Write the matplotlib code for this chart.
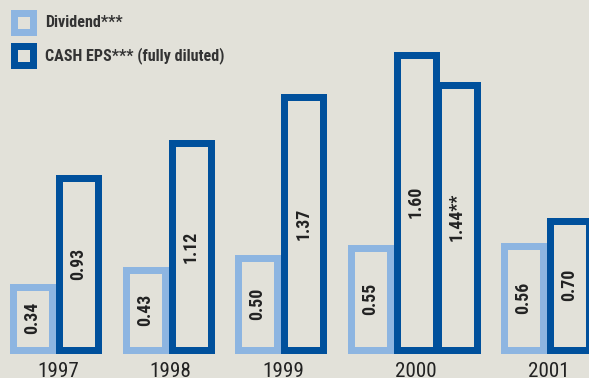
import matplotlib
matplotlib.use("Agg")
import matplotlib.pyplot as plt
from matplotlib.patches import Rectangle
from matplotlib import font_manager as fm

# ---- data ----
years = ["1997", "1998", "1999", "2000", "2001"]
dividend = [0.34, 0.43, 0.50, 0.55, 0.56]
cash_eps = [0.93, 1.12, 1.37, 1.60, 0.70]
extra_year = "2000"
extra_eps = 1.44
extra_label = "1.44**"
legend_labels = ["Dividend***", "CASH EPS*** (fully diluted)"]

# ---- font choice: prefer a condensed sans ----
FAMILY, STRETCH, SCALE = "Liberation Sans", "normal", 0.87
_pref = ["Liberation Sans Narrow", "Roboto Condensed", "Open Sans Condensed",
         "DejaVu Sans Condensed", "Noto Sans Condensed"]
_names = {f.name for f in fm.fontManager.ttflist}
_found = False
for p in _pref:
    if p in _names:
        FAMILY, STRETCH, SCALE, _found = p, "normal", 1.0, True
        break
if not _found:
    for pref_fam in ["Noto Sans", "Open Sans", "Roboto", "DejaVu Sans", "Lato"]:
        hits = [f for f in fm.fontManager.ttflist if f.name == pref_fam and
                str(f.stretch) in ("condensed", "semi-condensed", "extra-condensed")]
        if hits:
            FAMILY, STRETCH = pref_fam, hits[0].stretch
            SCALE = 1.0
            _found = True
            break
FONT = [FAMILY, "DejaVu Sans"]

# ---- style ----
BG = "#e2e1d9"
LIGHT = "#8db5e1"
DARK = "#00509c"
TXT = "#222222"

W, H, DPI = 589, 378, 100
fig = plt.figure(figsize=(W / DPI, H / DPI), dpi=DPI, facecolor=BG)
ax = fig.add_axes([0, 0, 1, 1])
ax.set_facecolor(BG)

PX_PER_UNIT = 184.0
BASE_PX = 349.5  # baseline pixel from top
ax.set_xlim(0, W)
ax.set_ylim(-(H - BASE_PX) / PX_PER_UNIT, BASE_PX / PX_PER_UNIT)
ax.axis("off")

stroke_px = 7
lw = stroke_px * 72 / DPI
bar_w = 39
step = 112.5
first_center = 32.5
pair_gap = 46
extra_gap = 41

def label(x, v, text):
    ax.text(x, v / 2, text, rotation=90, ha="center", va="center",
            fontsize=12.8 * SCALE, fontweight="bold", fontstretch=STRETCH,
            color=TXT, family=FONT)

shift = 0
for i, (yr, d, e) in enumerate(zip(years, dividend, cash_eps)):
    xd = first_center + step * i + shift
    xe = xd + pair_gap
    ax.bar(xd, d, width=bar_w, facecolor=BG, edgecolor=LIGHT, linewidth=lw, zorder=2)
    ax.bar(xe, e, width=bar_w, facecolor=BG, edgecolor=DARK, linewidth=lw, zorder=3)
    label(xd, d, f"{d:.2f}")
    label(xe, e, f"{e:.2f}")
    ylab_x = (xd + xe) / 2 + 2.5
    if yr == extra_year:
        xx = xe + extra_gap
        ax.bar(xx, extra_eps, width=bar_w, facecolor=BG, edgecolor=DARK,
               linewidth=lw, zorder=2.5)
        label(xx, extra_eps, extra_label)
        ylab_x = xe
        shift += extra_gap
    ax.text(ylab_x, -(377 - BASE_PX) / PX_PER_UNIT, yr, ha="center", va="baseline",
            fontsize=15.2 * SCALE, color=TXT, family=FONT, fontstretch=STRETCH)

# ---- legend (pixel overlay) ----
lax = fig.add_axes([0, 0, 1, 1], facecolor="none")
lax.set_xlim(0, W)
lax.set_ylim(H, 0)
lax.axis("off")
for yc, col, txt in [(22.5, LIGHT, legend_labels[0]), (55.5, DARK, legend_labels[1])]:
    lax.add_patch(Rectangle((13.5, yc - 9.5), 19, 19, facecolor=BG, edgecolor=col,
                            linewidth=lw, joinstyle="miter"))
    lax.text(45, yc, txt, ha="left", va="center", fontsize=11.6 * SCALE, fontweight="bold",
             color="#333333", family=FONT, fontstretch=STRETCH)

fig.savefig("out.png", dpi=DPI, facecolor=BG)
